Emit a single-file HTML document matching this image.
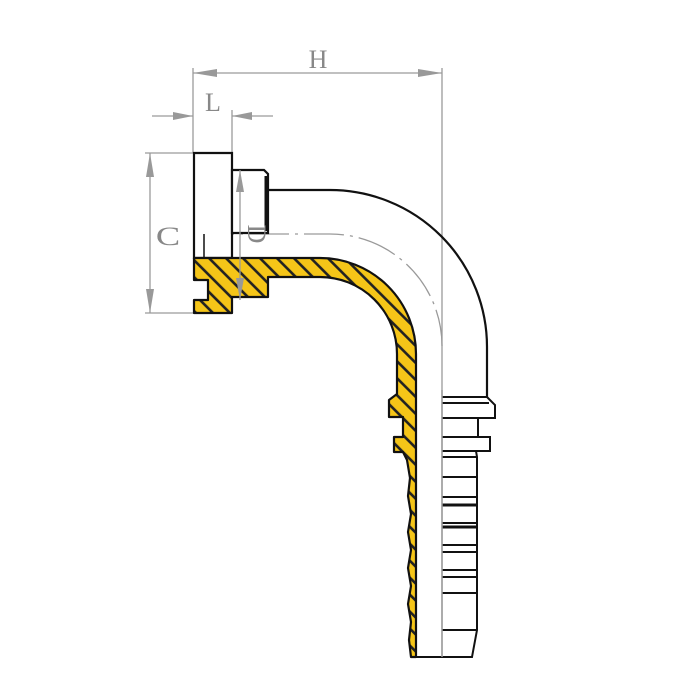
<!DOCTYPE html>
<html><head><meta charset="utf-8"><style>html,body{margin:0;padding:0;background:#fff}svg{display:block}</style></head><body>
<svg width="700" height="700" viewBox="0 0 700 700" xmlns="http://www.w3.org/2000/svg">
<defs>
<pattern id="h" patternUnits="userSpaceOnUse" width="12" height="12" patternTransform="rotate(-45)">
<rect width="12" height="12" fill="#f5c518"/><rect x="0" y="0" width="2.6" height="12" fill="#222"/>
</pattern>
</defs>
<g stroke="#9a9a9a" stroke-width="1.3" fill="none">
<line x1="193" y1="68" x2="193" y2="153"/>
<line x1="442" y1="68" x2="442" y2="657"/>
<line x1="232" y1="110" x2="232" y2="153"/>
<line x1="193" y1="73" x2="442" y2="73"/>
<line x1="152" y1="116" x2="193" y2="116"/>
<line x1="273" y1="116" x2="232" y2="116"/>
<line x1="145" y1="153" x2="194" y2="153"/>
<line x1="145" y1="313" x2="194" y2="313"/>
<line x1="150" y1="153" x2="150" y2="313"/>
<path d="M194,234 H330 A112,112 0 0 1 442,346" stroke-dasharray="40,6,3,6"/>
</g>
<g stroke="#111" stroke-width="2.2" fill="#fff">
<path d="M194,153 H232 V258 H194 Z"/>
<path d="M232,170 H264 L268,174 V233 H232 Z"/>
<line x1="266" y1="176" x2="266" y2="231" stroke-width="3"/>
<path d="M268,190 H330 A157,157 0 0 1 487,348 V397" fill="none"/>
<line x1="204" y1="234" x2="204" y2="258" stroke-width="1.5"/>
</g>
<path d="M194,258 H320 A96,96 0 0 1 416,354 V657 H411 L409,640 L411,622 L408,604 L411,586 L408,568 L411,550 L408,532 L411,514 L408,496 L410,478 L407,460 L403,452 H394 V437 H403 V417 H389 V400 L397,394 V354 A77,77 0 0 0 320,277 H268 V297 H232 V313 H194 V300 H208 V280 H194 Z" fill="url(#h)" stroke="#111" stroke-width="2.2" stroke-linejoin="round"/>
<line x1="240" y1="170" x2="240" y2="300" stroke="#9a9a9a" stroke-width="1.3"/>
<g fill="#999">
<polygon points="193,73 217,69 217,77"/>
<polygon points="442,73 418,69 418,77"/>
<polygon points="193,116 173,112 173,120"/>
<polygon points="232,116 252,112 252,120"/>
<polygon points="150,153 146,177 154,177"/>
<polygon points="150,313 146,289 154,289"/>
<polygon points="240,170 236,192 244,192"/>
<polygon points="240,300 236,278 244,278"/>
</g>
<g fill="#888" font-family="Liberation Serif, serif" font-size="26">
<text x="318" y="68" text-anchor="middle">H</text>
<text x="213" y="111" text-anchor="middle">L</text>
<text transform="translate(168,245) scale(1.4,1)" text-anchor="middle" font-size="26">C</text>
<text transform="translate(248,234) rotate(90)" text-anchor="middle" font-size="26">D</text>
</g>
<g stroke="#111" stroke-width="2" fill="none">
<path d="M442,397 H487 L495,405 V418 H442"/>
<line x1="442" y1="403" x2="489" y2="403"/>
<path d="M478,418 V437"/>
<path d="M442,437 H490 V451 H442"/>
<path d="M476,451 L477,457 V630 L472,657 H416"/>
<line x1="442" y1="457" x2="477" y2="457"/>
<line x1="442" y1="477" x2="477" y2="477"/>
<line x1="442" y1="497" x2="477" y2="497"/>
<line x1="442" y1="505" x2="477" y2="505" stroke-width="3"/>
<line x1="442" y1="523" x2="477" y2="523"/>
<line x1="442" y1="527" x2="477" y2="527" stroke-width="3"/>
<line x1="442" y1="545" x2="477" y2="545"/>
<line x1="442" y1="552" x2="477" y2="552"/>
<line x1="442" y1="570" x2="477" y2="570"/>
<line x1="442" y1="577" x2="477" y2="577"/>
<line x1="442" y1="593" x2="477" y2="593"/>
<line x1="442" y1="630" x2="477" y2="630"/>
</g>
<line x1="442" y1="390" x2="442" y2="657" stroke="#9a9a9a" stroke-width="1.5"/>
</svg>
</body></html>
